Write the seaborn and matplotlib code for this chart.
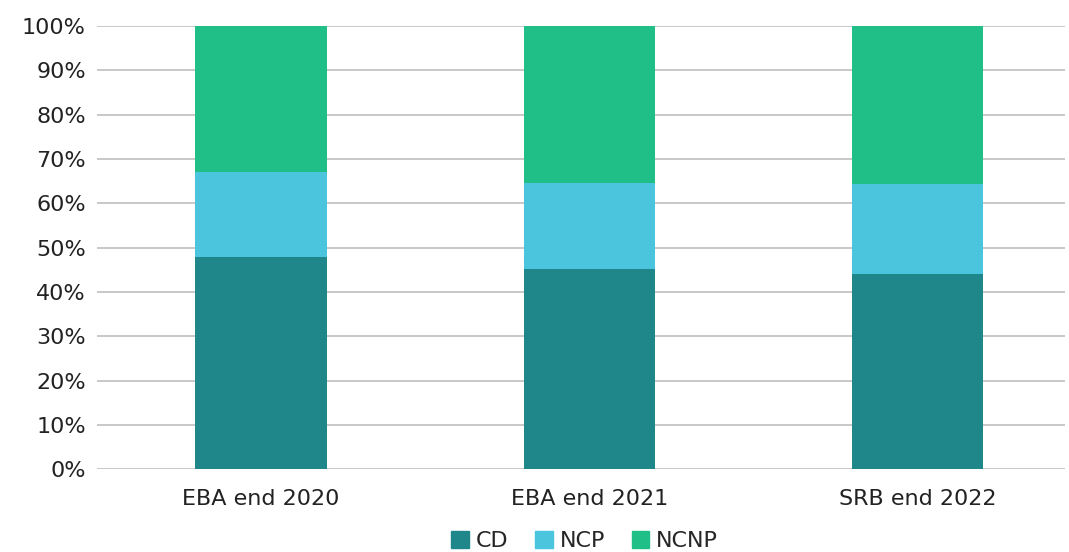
import pandas as pd
import matplotlib.pyplot as plt
import seaborn as sns
from matplotlib.patches import Patch
from matplotlib.ticker import PercentFormatter

categories = ['EBA end 2020', 'EBA end 2021', 'SRB end 2022']
cd = [47.9, 45.1, 44.0]
ncp = [19.1, 19.5, 20.3]
ncnp = [33.0, 35.4, 35.7]

colors = {'CD': '#1F868A', 'NCP': '#4BC4DE', 'NCNP': '#1FBF87'}

df = pd.DataFrame({'Kategorie': categories, 'CD': cd, 'NCP': ncp, 'NCNP': ncnp})
df['CD+NCP'] = df['CD'] + df['NCP']
df['Gesamt'] = df['CD+NCP'] + df['NCNP']

sns.set_style('white')
plt.rcParams['font.family'] = ['DejaVu Sans']

fig = plt.figure(figsize=(10.69, 5.52), dpi=100)
ax = fig.add_axes([0.0907, 0.150, 0.906, 0.803])

# gestapelt: von oben nach unten zeichnen
sns.barplot(data=df, x='Kategorie', y='Gesamt', color=colors['NCNP'], width=0.4, ax=ax, saturation=1, edgecolor='none')
sns.barplot(data=df, x='Kategorie', y='CD+NCP', color=colors['NCP'], width=0.4, ax=ax, saturation=1, edgecolor='none')
sns.barplot(data=df, x='Kategorie', y='CD', color=colors['CD'], width=0.4, ax=ax, saturation=1, edgecolor='none')

ax.set_ylim(0, 100)
ax.set_xlim(-0.5, 2.45)
ax.set_yticks(range(0, 101, 10))
ax.yaxis.set_major_formatter(PercentFormatter(decimals=0))
ax.grid(axis='y', color='#BFBFBF', linewidth=1.2)
ax.set_axisbelow(True)
for s in ax.spines.values():
    s.set_visible(False)
ax.tick_params(axis='both', length=0, labelsize=16, colors='#222222', pad=8)
ax.tick_params(axis='x', pad=14)
ax.set_xlabel('')
ax.set_ylabel('')

handles = [Patch(color=c, label=k) for k, c in colors.items()]
fig.legend(handles=handles, loc='center', bbox_to_anchor=(0.547, 0.02), ncol=3,
           frameon=False, fontsize=16, handlelength=0.8, handleheight=0.8,
           handletextpad=0.3, columnspacing=1.2)

fig.savefig('out.png', dpi=100)
